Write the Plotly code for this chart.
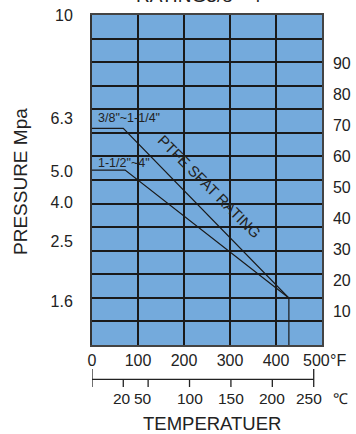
import plotly.graph_objects as go

# ---- data ----
temp_f_ticks = [0, 100, 200, 300, 400]
celsius_ticks = [20, 50, 100, 150, 200, 250]
right_ticks = [10, 20, 30, 40, 50, 60, 70, 80, 90]
pressure_labels = ["10", "6.3", "5.0", "4.0", "2.5", "1.6"]
pressure_rows = [14, 9.61, 7.35, 6.03, 4.41, 1.84]   # on the 14-row chart grid
grid_rows = list(range(1, 14))

small_temp = [0, 68, 428, 428]      # 3/8"~1-1/4"  (deg F)
small_rating = [69, 69, 14.4, -0.7]
large_temp = [0, 72, 428]           # 1-1/2"~4"
large_rating = [55.6, 55.6, 14.4]

FONT = "Liberation Sans, Arial, sans-serif"
BLUE = "#74aadc"
GRID = "#1a1a1a"

fig = go.Figure()
fig.add_trace(go.Scatter(x=[0], y=[0], yaxis="y2", mode="markers",
                         marker=dict(opacity=0), showlegend=False, hoverinfo="skip"))
fig.add_trace(go.Scatter(x=[0], y=[0], yaxis="y3", mode="markers",
                         marker=dict(opacity=0), showlegend=False, hoverinfo="skip"))
fig.add_trace(go.Scatter(x=small_temp, y=small_rating, mode="lines", yaxis="y",
                         line=dict(color="#1a1a1a", width=1.2), showlegend=False,
                         hoverinfo="skip", cliponaxis=False))
fig.add_trace(go.Scatter(x=large_temp, y=large_rating, mode="lines", yaxis="y",
                         line=dict(color="#1a1a1a", width=1.2), showlegend=False,
                         hoverinfo="skip"))

fig.update_layout(
    width=356, height=434,
    margin=dict(l=92, r=34, t=15, b=89, autoexpand=False),
    paper_bgcolor="white", plot_bgcolor=BLUE,
    font=dict(family=FONT, size=16, color="#222"),
    xaxis=dict(range=[0, 500], tickvals=temp_f_ticks, showgrid=True,
               gridcolor=GRID, gridwidth=1.5, zeroline=False, automargin=False,
               showline=True, mirror=True, linecolor="#444", linewidth=1.5,
               ticks="", ticklabelstandoff=0, tickfont=dict(size=16)),
    yaxis=dict(range=[-0.7, 105.5], side="right", tickvals=right_ticks,
               showgrid=False, zeroline=False, ticks="", automargin=False,
               showline=True, mirror=True, linecolor="#444", linewidth=1.5,
               ticklabelstandoff=6, tickfont=dict(size=16)),
    yaxis2=dict(range=[0, 14], overlaying="y", side="left", tickvals=grid_rows,
                showticklabels=False, showgrid=True, gridcolor=GRID, gridwidth=1.5,
                zeroline=False, ticks="", automargin=False),
    yaxis3=dict(range=[0, 14], overlaying="y", side="left",
                tickvals=pressure_rows, ticktext=pressure_labels,
                showgrid=False, zeroline=False, ticks="", automargin=False,
                showline=True, linecolor="#333", linewidth=2,
                ticklabelstandoff=14, tickfont=dict(size=16)),
)

def py(p):  # pixel y -> paper y
    return (345 - p) / 330

def px(p):  # pixel x -> paper x
    return (p - 92) / 230

shapes = []
cel_f = [c * 9 / 5 + 32 for c in celsius_ticks]
shapes.append(dict(type="line", xref="x", yref="paper", x0=0, x1=cel_f[-1],
                   y0=py(379.3), y1=py(379.3), line=dict(color="#222", width=1.3)))
for xv in [0, cel_f[-1]]:
    shapes.append(dict(type="line", xref="x", yref="paper", x0=xv, x1=xv,
                       y0=py(369), y1=py(387), line=dict(color="#222", width=1.3)))
for xv in cel_f[:-1]:
    shapes.append(dict(type="line", xref="x", yref="paper", x0=xv, x1=xv,
                       y0=py(379.3), y1=py(387), line=dict(color="#222", width=1.3)))
fig.update_layout(shapes=shapes)

ann = []
shift = {20: -1, 50: -5, 250: -5}
for c, xv in zip(celsius_ticks, cel_f):
    ann.append(dict(x=xv, y=py(398.3), xref="x", yref="paper", text=str(c),
                    xanchor="center", yanchor="middle",
                    showarrow=False, xshift=shift.get(c, 0), font=dict(size=15.5)))
ann.append(dict(x=px(331), y=py(398.3), xref="paper", yref="paper", text="℃",
                showarrow=False, xanchor="left", yanchor="middle", font=dict(size=15)))
ann.append(dict(x=px(316), y=py(360.5), xref="paper", yref="paper", text="500",
                showarrow=False, xanchor="center", yanchor="middle", font=dict(size=16)))
ann.append(dict(x=px(327.5), y=py(360.5), xref="paper", yref="paper", text="°F",
                showarrow=False, xanchor="left", yanchor="middle", font=dict(size=16)))
ann.append(dict(x=px(211.7), y=py(424), xref="paper", yref="paper", text="TEMPERATUER",
                showarrow=False, xanchor="center", yanchor="middle", font=dict(size=18.5)))
ann.append(dict(x=px(20), y=py(182), xref="paper", yref="paper",
                text="PRESSURE Mpa", textangle=-90, showarrow=False,
                xanchor="center", yanchor="middle", font=dict(size=19)))
ann.append(dict(x=px(202), y=py(8), xref="paper", yref="paper",
                text="RATING3/8\"~4\"", showarrow=False, xanchor="center",
                yanchor="bottom", font=dict(size=19)))
ann.append(dict(x=8, y=72.3, xref="x", yref="y", text="3/8\"~1-1/4\"",
                showarrow=False, xanchor="left", yanchor="middle", font=dict(size=12.5)))
ann.append(dict(x=8, y=57.8, xref="x", yref="y", text="1-1/2\"~4\"",
                showarrow=False, xanchor="left", yanchor="middle", font=dict(size=12.5)))
ann.append(dict(x=255, y=50.2, xref="x", yref="y", text="PTFE SFAT RATING",
                showarrow=False, textangle=45, xanchor="center", yanchor="middle",
                font=dict(size=15)))
fig.update_layout(annotations=ann)

fig.write_html("out.html", config={"displayModeBar": False},
               post_script="document.body.style.margin='0';")
